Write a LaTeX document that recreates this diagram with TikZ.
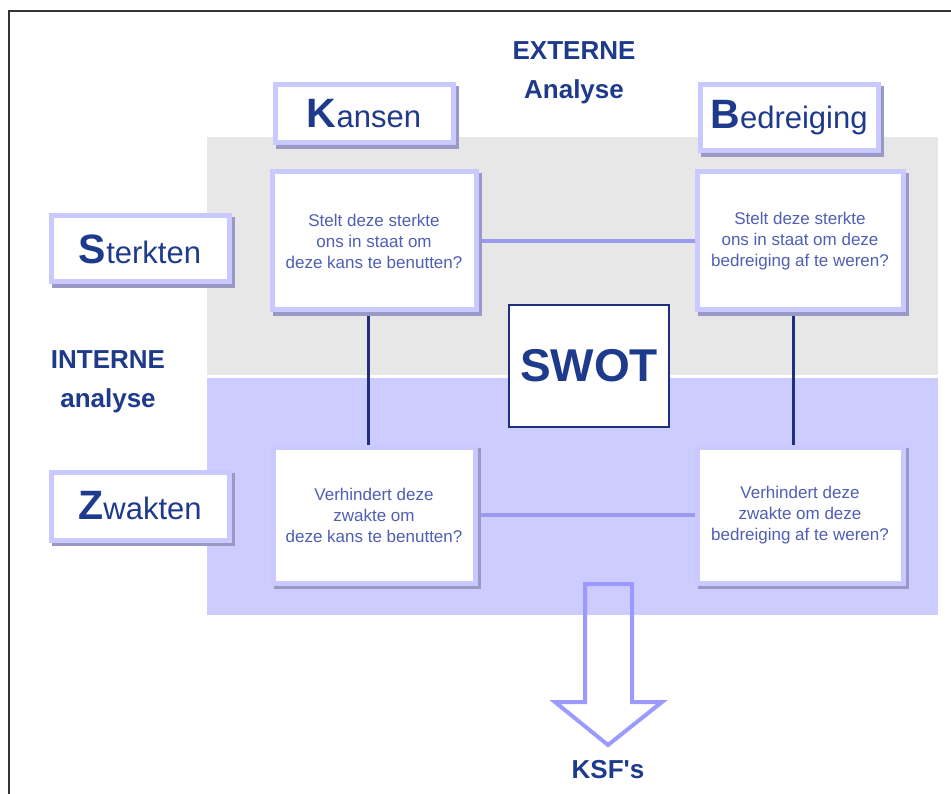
\documentclass[tikz,border=0pt]{standalone}
\usepackage{fontspec}
\setmainfont{Liberation Sans}[Ligatures=TeXOff]
\usetikzlibrary{shadows,backgrounds}

\definecolor{bandgray}{HTML}{E7E7E7}
\definecolor{bandlilac}{HTML}{CCCCFF}
\definecolor{boxrim}{HTML}{C9C9FF}
\definecolor{boxshade}{HTML}{9A98C4}
\definecolor{titleblue}{HTML}{1E3A8C}
\definecolor{askblue}{HTML}{4F5FB3}
\definecolor{linklight}{HTML}{9A9AEE}
\definecolor{linkdark}{HTML}{1F2F80}
\definecolor{arrowlilac}{HTML}{9B9BFF}

\begin{document}
\begin{tikzpicture}[x=1pt,y=-1pt,
    card/.style={draw=boxrim, line width=5pt, fill=white, inner sep=0pt,
      general shadow={fill=boxshade, draw=boxshade, shadow xshift=3.5pt, shadow yshift=-3.5pt}},
    head/.style={card, minimum width=178pt, text=titleblue,
      font=\fontsize{31}{36}\selectfont},
    ask/.style={card, text=askblue, align=center,
      font=\fontsize{17}{21}\selectfont},
    big/.style={font=\fontsize{26}{39}\selectfont\bfseries, text=titleblue, align=center}]
  \useasboundingbox (0,0) rectangle (951,794);
  % frame
  \draw[line width=2pt, black!80] (9,794) -- (9,11) -- (951,11);
  % bands
  \begin{pgfonlayer}{background}
    \fill[bandgray] (207,137) rectangle (938,375);
    \fill[bandlilac] (207,378) rectangle (938,615);
  \end{pgfonlayer}
  % titles
  \node[big] (ext) at (574,73) {EXTERNE\\Analyse};
  \node[big] (int) at (108,382) {INTERNE\\analyse};
  % heading boxes
  \node[head, minimum height=58pt] (kans) at (364,114) {{\fontsize{41}{41}\selectfont\bfseries K}ansen};
  \node[head, minimum height=66pt] (bedr) at (789,118) {{\fontsize{41}{41}\selectfont\bfseries B}edreiging};
  \node[head, minimum height=66pt] (sterk) at (140,249) {{\fontsize{41}{41}\selectfont\bfseries S}terkten};
  \node[head, minimum height=68pt] (zwak) at (140,506) {{\fontsize{41}{41}\selectfont\bfseries Z}wakten};
  % question boxes
  \node[ask, minimum width=204pt, minimum height=138pt] (ul) at (374,241) {Stelt deze sterkte\\ons in staat om\\deze kans te benutten?};
  \node[ask, minimum width=206pt, minimum height=138pt] (ur) at (800,241) {Stelt deze sterkte\\ons in staat om deze\\bedreiging af te weren?};
  \node[ask, minimum width=202pt, minimum height=136pt] (ll) at (374,515) {Verhindert deze\\zwakte om\\deze kans te benutten?};
  \node[ask, minimum width=206pt, minimum height=136pt] (lr) at (800,515) {Verhindert deze\\zwakte om deze\\bedreiging af te weren?};
  % links
  \begin{pgfonlayer}{background}
    \draw[linklight, line width=4pt] (ul) -- (ur);
    \draw[linklight, line width=4pt] (ll) -- (lr);
    \draw[linkdark, line width=3pt] ([xshift=-6pt]ul.south) -- ([xshift=-6pt]ll.north);
    \draw[linkdark, line width=3pt] ([xshift=-7pt]ur.south) -- ([xshift=-7pt]lr.north);
  \end{pgfonlayer}
  % centre
  \node[draw=linkdark, line width=2.5pt, fill=white, minimum width=160pt, minimum height=122pt,
    text=titleblue, font=\fontsize{46}{46}\selectfont\bfseries] (swot) at (589,366) {SWOT};
  % result
  \node[font=\fontsize{26}{30}\selectfont\bfseries, text=titleblue] (ksf) at (608,770) {KSF's};
  \draw[arrowlilac, line width=4pt, line join=miter]
    (585,584) -- (632,584) -- (632,702) -- (662,702) -- (608,745) -- (555,702) -- (585,702) -- cycle;
\end{tikzpicture}
\end{document}
